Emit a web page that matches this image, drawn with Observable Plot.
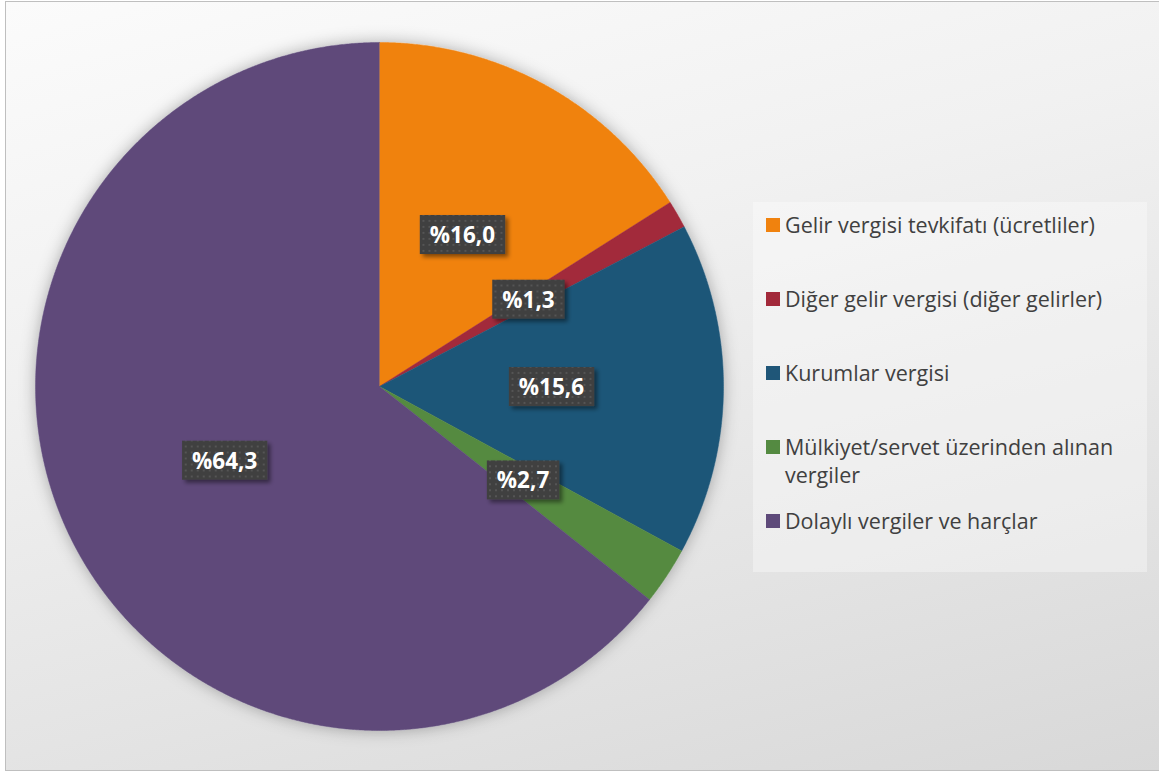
<!DOCTYPE html>
<html>
<head>
<meta charset="utf-8">
<script src="https://cdn.jsdelivr.net/npm/d3@7"></script>
<script src="https://cdn.jsdelivr.net/npm/@observablehq/plot@0.6"></script>
<style>
  html, body { margin: 0; padding: 0; }
  body { width: 1159px; height: 772px; overflow: hidden; background: #fff; }
  #frame {
    position: absolute; left: 5px; top: 1px; width: 1160px; height: 768px;
    border: 1.5px solid #bfbfbf;
    background: linear-gradient(165deg, #fbfbfb 0%, #f1f1f1 35%, #e4e4e4 70%, #d8d8d8 100%);
  }
  #chart { position: absolute; left: 0; top: 0; }
  #legend {
    position: absolute; left: 753px; top: 202px; width: 394px; height: 370px;
    background: rgba(255,255,255,0.35);
    font-family: "Open Sans", sans-serif; font-size: 21.5px; color: #404040;
  }
  .item { position: absolute; left: 13px; display: flex; align-items: flex-start; line-height: 28px; }
  .sw { width: 14px; height: 14px; margin-top: 7px; margin-right: 5px; flex: none; }
</style>
</head>
<body>
<div id="frame"></div>
<div id="chart"></div>
<div id="legend"></div>
<script>
const categories = [
  "Gelir vergisi tevkifatı (ücretliler)",
  "Diğer gelir vergisi (diğer gelirler)",
  "Kurumlar vergisi",
  "Mülkiyet/servet üzerinden alınan vergiler",
  "Dolaylı vergiler ve harçlar"
];
const values = [16.0, 1.3, 15.6, 2.7, 64.3];
const labels = ["%16,0", "%1,3", "%15,6", "%2,7", "%64,3"];
const colors = ["#F0820E", "#A2293A", "#1F5678", "#548A41", "#5E4A7A"];
const legendLines = [
  ["Gelir vergisi tevkifatı (ücretliler)"],
  ["Diğer gelir vergisi (diğer gelirler)"],
  ["Kurumlar vergisi"],
  ["Mülkiyet/servet üzerinden alınan", "vergiler"],
  ["Dolaylı vergiler ve harçlar"]
];

// pie geometry from data
const arcs = d3.pie().sort(null).value(d => d)(values);
const pieRows = [];
arcs.forEach((a, i) => {
  pieRows.push({x: 0, y: 0, cat: categories[i]});
  const n = Math.max(2, Math.ceil((a.endAngle - a.startAngle) / 0.005));
  for (let k = 0; k <= n; k++) {
    const t = a.startAngle + (a.endAngle - a.startAngle) * k / n;
    pieRows.push({x: Math.sin(t), y: Math.cos(t), cat: categories[i]});
  }
});
const labelData = arcs.map((a, i) => {
  const m = (a.startAngle + a.endAngle) / 2;
  return {x: 0.5 * Math.sin(m), y: 0.5 * Math.cos(m), label: labels[i]};
});

const plot = Plot.plot({
  width: 1159,
  height: 772,
  marginLeft: 35,
  marginRight: 436,
  marginTop: 42,
  marginBottom: 42,
  x: {domain: [-1, 1], axis: null},
  y: {domain: [-1, 1], axis: null},
  color: {domain: categories, range: colors},
  style: {background: "transparent", overflow: "visible"},
  marks: [
    Plot.line(pieRows, {
      x: "x", y: "y", z: "cat", fill: "cat", stroke: "cat", strokeWidth: 0.5, curve: "linear"
    }),
    Plot.text(labelData, {
      x: "x", y: "y", text: "label",
      fill: "white", fontWeight: "bold", fontSize: 22.5,
      fontFamily: "Open Sans"
    })
  ]
});
document.getElementById("chart").appendChild(plot);

// defs: dotted pattern + shadows
const ns = "http://www.w3.org/2000/svg";
const defs = document.createElementNS(ns, "defs");
defs.innerHTML = `
  <pattern id="dots" width="6" height="6" patternUnits="userSpaceOnUse">
    <rect width="6" height="6" fill="#3f3f3f"></rect>
    <rect x="2" y="2" width="2" height="2" fill="#555555"></rect>
  </pattern>
  <filter id="boxshadow" x="-20%" y="-20%" width="150%" height="160%">
    <feDropShadow dx="3" dy="3" stdDeviation="2" flood-color="#000" flood-opacity="0.45"></feDropShadow>
  </filter>
  <filter id="pieshadow" x="-10%" y="-10%" width="120%" height="120%">
    <feDropShadow dx="0" dy="0" stdDeviation="8" flood-color="#000" flood-opacity="0.3"></feDropShadow>
  </filter>`;
plot.insertBefore(defs, plot.firstChild);

const groups = plot.querySelectorAll(":scope > g");
if (groups.length >= 2) {
  groups[0].setAttribute("filter", "url(#pieshadow)");
  const lg = groups[groups.length - 1];
  lg.querySelectorAll("text").forEach(t => {
    const bb = t.getBBox();
    const r = document.createElementNS(ns, "rect");
    const padX = 10, padY = 5;
    r.setAttribute("x", bb.x - padX);
    r.setAttribute("y", bb.y - padY + 1);
    r.setAttribute("width", bb.width + 2 * padX);
    r.setAttribute("height", bb.height + 2 * padY - 2);
    r.setAttribute("fill", "url(#dots)");
    r.setAttribute("filter", "url(#boxshadow)");
    const tr = t.getAttribute("transform");
    if (tr) r.setAttribute("transform", tr);
    t.parentNode.insertBefore(r, t);
  });
}

// legend
const legend = document.getElementById("legend");
categories.forEach((c, i) => {
  const it = document.createElement("div");
  it.className = "item";
  it.style.top = (225 - 202 - 14 + i * 74) + "px";
  const sw = document.createElement("div");
  sw.className = "sw";
  sw.style.background = colors[i];
  const tx = document.createElement("div");
  tx.innerHTML = legendLines[i].join("<br>");
  it.appendChild(sw); it.appendChild(tx);
  legend.appendChild(it);
});
</script>
</body>
</html>
